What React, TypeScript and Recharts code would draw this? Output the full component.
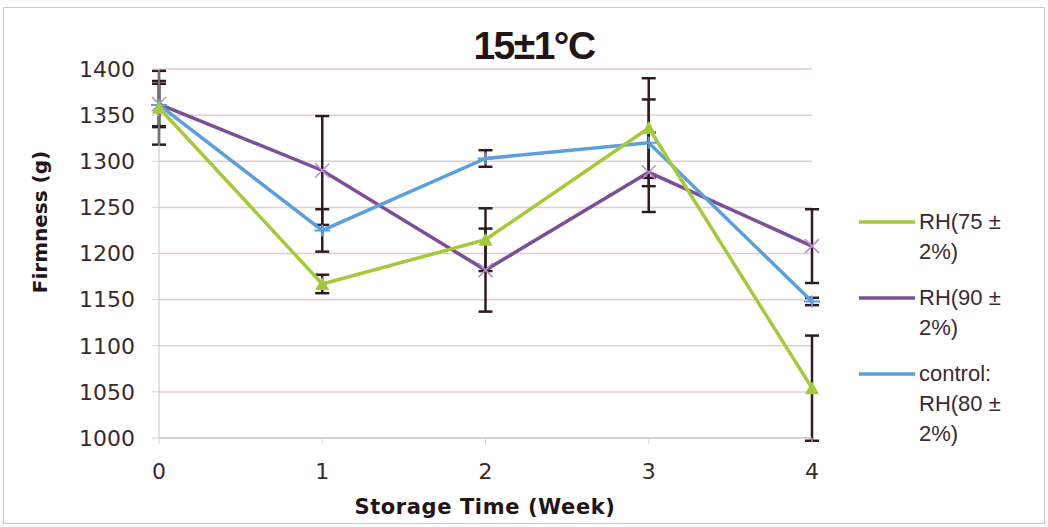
import React from "react";
import { LineChart, Line, XAxis, YAxis, CartesianGrid, ErrorBar, Legend } from "recharts";

const weeks = ["0", "1", "2", "3", "4"];
const rh75 = [1358, 1167, 1215, 1336, 1054];
const rh75Err = [40, 10, 34, 54, 57];
const rh90 = [1362, 1290, 1182, 1288, 1208];
const rh90Err = [25, 59, 45, 43, 40];
const ctrl = [1361, 1225, 1303, 1320, 1148];
const ctrlErr = [23, 23, 9, 47, 4];
const yTicks = [1000, 1050, 1100, 1150, 1200, 1250, 1300, 1350, 1400];

const GREEN = "#a4c93a";
const PURPLE = "#7d4f98";
const BLUE = "#5b9fdc";
const ERR = "#2e1c22";
const TEXT = "#3a2a2e";

const data = weeks.map((w, i) => ({
  week: w,
  rh75: rh75[i],
  rh75Err: rh75Err[i],
  rh90: rh90[i],
  rh90Err: rh90Err[i],
  ctrl: ctrl[i],
  ctrlErr: ctrlErr[i],
}));

const TriDot = (p: any) => {
  const { cx, cy, index } = p;
  if (cx == null || cy == null) return <g key={`t${index}`} />;
  return <path key={`t${index}`} d={`M${cx},${cy - 7} L${cx + 7},${cy + 6} L${cx - 7},${cy + 6} Z`} fill={GREEN} />;
};
const XDot = (p: any) => {
  const { cx, cy, index } = p;
  if (cx == null || cy == null) return <g key={`x${index}`} />;
  return (
    <path key={`x${index}`} d={`M${cx - 7},${cy - 7} L${cx + 7},${cy + 7} M${cx - 7},${cy + 7} L${cx + 7},${cy - 7}`} stroke="#b58fc8" strokeWidth={1.5} />
  );
};
const StarDot = (p: any) => {
  const { cx, cy, index } = p;
  if (cx == null || cy == null) return <g key={`s${index}`} />;
  return (
    <path key={`s${index}`} d={`M${cx - 8},${cy} L${cx + 8},${cy} M${cx},${cy - 6} L${cx},${cy + 6}`} stroke={BLUE} strokeWidth={2} />
  );
};

const legendLabels: Record<string, string> = {
  rh75: "RH(75 ± 2%)",
  rh90: "RH(90 ± 2%)",
  ctrl: "control: RH(80 ± 2%)",
};

const LegendContent = () => {
  const items = [
    { key: "rh75", color: GREEN },
    { key: "rh90", color: PURPLE },
    { key: "ctrl", color: BLUE },
  ];
  return (
    <div style={{ fontFamily: "'Liberation Sans', Arial, sans-serif", fontSize: 22, color: TEXT, lineHeight: "30px" }}>
      {items.map((it) => (
        <div key={it.key} style={{ display: "flex", alignItems: "flex-start", marginBottom: 16 }}>
          <svg width={58} height={30} style={{ flex: "none" }}>
            <line x1={0} y1={15} x2={56} y2={15} stroke={it.color} strokeWidth={3.5} />
          </svg>
          <div style={{ width: 100, marginLeft: 2 }}>{legendLabels[it.key]}</div>
        </div>
      ))}
    </div>
  );
};

export default function App() {
  return (
    <div style={{ position: "absolute", left: 3, top: 7, width: 1040, height: 515, border: "1px solid #c8c8c8", background: "#fff" }}>
      <div
        style={{
          position: "absolute",
          left: 380,
          width: 300,
          top: 18,
          textAlign: "center",
          fontFamily: "'Liberation Sans', Arial, sans-serif",
          fontWeight: "bold",
          fontSize: 39,
          lineHeight: "39px",
          letterSpacing: -1.5,
          color: "#231418",
        }}
      >
        15±1°C
      </div>
      <div
        style={{
          position: "absolute",
          left: 36 - 100,
          top: 222 - 8 - 12,
          width: 200,
          height: 24,
          textAlign: "center",
          transform: "rotate(-90deg)",
          fontFamily: "'DejaVu Sans', Verdana, sans-serif",
          fontWeight: "bold",
          fontSize: 20,
          lineHeight: "24px",
          color: "#231418",
        }}
      >
        Firmness (g)
      </div>
      <div
        style={{
          position: "absolute",
          left: 481 - 200,
          width: 400,
          top: 487,
          textAlign: "center",
          fontFamily: "'DejaVu Sans', Verdana, sans-serif",
          fontWeight: "bold",
          fontSize: 21,
          lineHeight: "24px",
          letterSpacing: 0.6,
          color: "#231418",
        }}
      >
        Storage Time (Week)
      </div>
      <LineChart
        width={1040}
        height={515}
        data={data}
        margin={{ top: 61, right: 232, bottom: 45, left: 95 }}
        style={{ position: "absolute", left: 0, top: 0 }}
      >
        <CartesianGrid vertical={false} stroke="#e6cbd5" strokeWidth={1.5} />
        <XAxis
          dataKey="week"
          height={40}
          tick={{ fill: TEXT, fontSize: 22, fontFamily: "'DejaVu Sans', Verdana, sans-serif" }}
          tickSize={6}
          tickMargin={19}
          stroke="#c4c4c4"
          tickLine={{ stroke: "#d8d8d8" }}
        />
        <YAxis
          width={60}
          domain={[1000, 1400]}
          ticks={yTicks}
          interval={0}
          tick={{ fill: TEXT, fontSize: 22, fontFamily: "'DejaVu Sans', Verdana, sans-serif" }}
          tickSize={7}
          tickMargin={17}
          stroke="#c4c4c4"
          tickLine={{ stroke: "#e6cbd5" }}
          allowDataOverflow
        />
        <Legend
          layout="vertical"
          align="center"
          verticalAlign="middle"
          content={<LegendContent />}
          wrapperStyle={{ left: 855, top: 199, width: 180 }}
        />
        <Line dataKey="rh90" name="RH(90 ± 2%)" stroke={PURPLE} strokeWidth={3.5} dot={<XDot />} isAnimationActive={false}>
          <ErrorBar dataKey="rh90Err" direction="y" width={7} stroke={ERR} strokeWidth={2.5} />
        </Line>
        <Line dataKey="ctrl" name="control: RH(80 ± 2%)" stroke={BLUE} strokeWidth={3.5} dot={<StarDot />} isAnimationActive={false}>
          <ErrorBar dataKey="ctrlErr" direction="y" width={7} stroke={ERR} strokeWidth={2.5} />
        </Line>
        <Line dataKey="rh75" name="RH(75 ± 2%)" stroke={GREEN} strokeWidth={3.5} dot={<TriDot />} isAnimationActive={false}>
          <ErrorBar dataKey="rh75Err" direction="y" width={7} stroke={ERR} strokeWidth={2.5} />
        </Line>
      </LineChart>
    </div>
  );
}
